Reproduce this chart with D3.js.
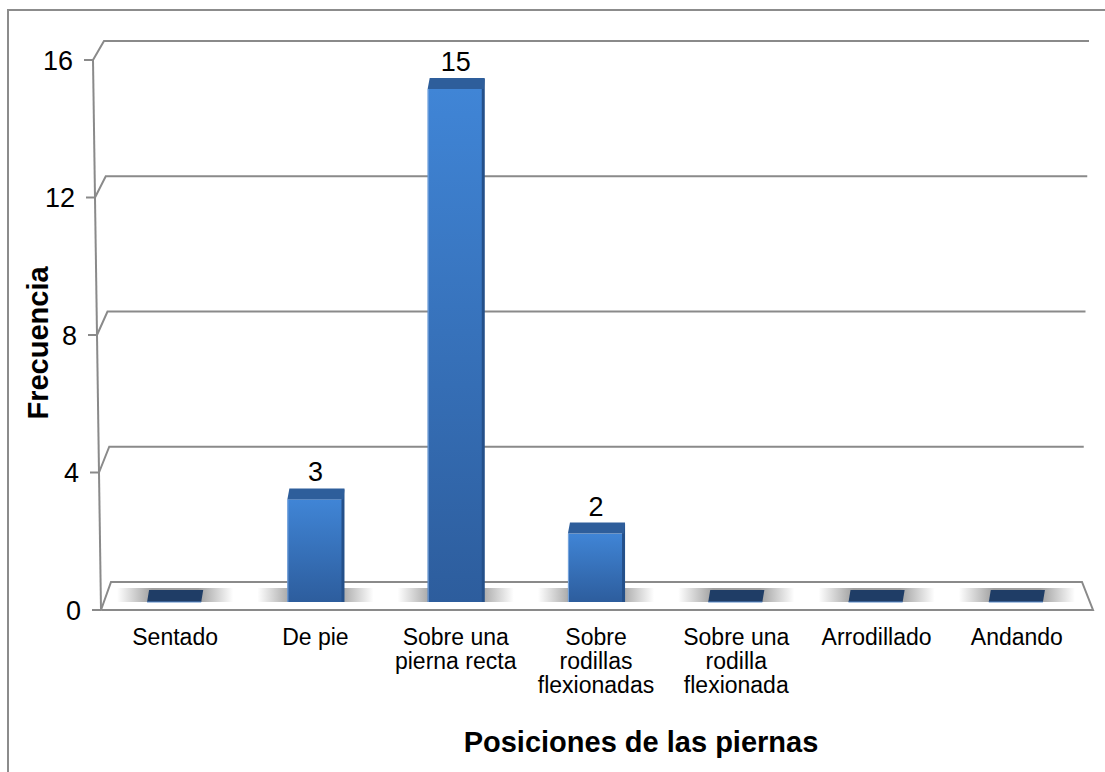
<!DOCTYPE html>
<html>
<head>
<meta charset="utf-8">
<script src="https://cdnjs.cloudflare.com/ajax/libs/d3/7.8.5/d3.min.js"></script>
<style>
  html, body { margin: 0; padding: 0; background: #fff; }
  svg { display: block; font-family: "Liberation Sans", Arial, sans-serif; }
</style>
</head>
<body>
<svg id="chart" width="1105" height="772"></svg>
<script>
// Frequency of leg positions
const categories = [
  "Sentado", "De pie", "Sobre una pierna recta", "Sobre rodillas flexionadas",
  "Sobre una rodilla flexionada", "Arrodillado", "Andando"
];
const categoryLines = [
  ["Sentado"], ["De pie"], ["Sobre una", "pierna recta"], ["Sobre", "rodillas", "flexionadas"],
  ["Sobre una", "rodilla", "flexionada"], ["Arrodillado"], ["Andando"]
];
const values = [0, 3, 15, 2, 0, 0, 0];
const yTicks = [0, 4, 8, 12, 16];
const yTitle = "Frecuencia";
const xTitle = "Posiciones de las piernas";

const svg = d3.select("#chart");
const gridColor = "#8a8a8a";

// Perspective box: front edge of the left wall, back wall, floor
const yFront = d3.scaleLinear().domain([0, 16]).range([610, 60]);
const yBack = d3.scaleLinear().domain([0, 16]).range([582, 41]);
const xFrontLeft = d3.scaleLinear().domain([0, 16]).range([101, 93]);
const xBackLeft = d3.scaleLinear().domain([0, 16]).range([111, 104]);
const xBackRight = d3.scaleLinear().domain([0, 16]).range([1082, 1089]);
// Bars stand on the floor plane
const yBar = d3.scaleLinear().domain([0, 16]).range([602, 602 - 16 * 34.2]);
const x = d3.scaleBand().domain(categories).range([105, 1087]).paddingInner(0.6).paddingOuter(0.3);

const defs = svg.append("defs");
const front = defs.append("linearGradient").attr("id", "barFront").attr("x1", 0).attr("y1", 0).attr("x2", 0).attr("y2", 1);
front.append("stop").attr("offset", "0%").attr("stop-color", "#4085d6");
front.append("stop").attr("offset", "100%").attr("stop-color", "#2d5d9d");
const shade = defs.append("linearGradient").attr("id", "floorShadow").attr("x1", 0).attr("y1", 0).attr("x2", 1).attr("y2", 0);
shade.append("stop").attr("offset", "0%").attr("stop-color", "#9a9a9a").attr("stop-opacity", 0);
shade.append("stop").attr("offset", "30%").attr("stop-color", "#9a9a9a").attr("stop-opacity", 0.95);
shade.append("stop").attr("offset", "70%").attr("stop-color", "#9a9a9a").attr("stop-opacity", 0.95);
shade.append("stop").attr("offset", "100%").attr("stop-color", "#9a9a9a").attr("stop-opacity", 0);

// Chart area border
svg.append("rect").attr("x", 8).attr("y", 10).attr("width", 1110).attr("height", 780)
  .attr("fill", "none").attr("stroke", "#8c8c8c").attr("stroke-width", 2);

// Back wall gridlines with their left-wall connectors
const grid = svg.append("g").attr("stroke", gridColor).attr("stroke-width", 2).attr("fill", "none");
yTicks.filter(d => d > 0).forEach(d => {
  grid.append("path").attr("d", d3.line()([
    [xFrontLeft(d), yFront(d)], [xBackLeft(d), yBack(d)], [xBackRight(d), yBack(d)]
  ]));
});

// Floor
grid.append("path").attr("d", d3.line()([
  [xFrontLeft(0), yFront(0)], [xBackLeft(0), yBack(0)], [xBackRight(0), yBack(0)],
  [1093, yFront(0)], [xFrontLeft(0), yFront(0)]
])).attr("fill", "#fff");

// Left axis line
grid.append("line").attr("x1", xFrontLeft(16)).attr("y1", yFront(16))
  .attr("x2", xFrontLeft(0)).attr("y2", yFront(0));

// Value axis: ticks and labels placed along the slanted front edge
const yAxis = svg.append("g").call(d3.axisLeft(yFront).tickValues(yTicks).tickSize(9).tickPadding(11));
yAxis.select(".domain").remove();
yAxis.selectAll(".tick").attr("transform", d => `translate(${xFrontLeft(d)},${yFront(d)})`);
yAxis.selectAll(".tick line").attr("stroke", gridColor).attr("stroke-width", 2);
yAxis.selectAll(".tick text").attr("font-size", 27).attr("fill", "#000")
  .attr("font-family", "Liberation Sans, Arial, sans-serif").attr("dy", "0.36em");

// Soft shadows on the floor
svg.append("g").selectAll("rect").data(categories).join("rect")
  .attr("x", d => x(d) - 30).attr("width", x.bandwidth() + 60)
  .attr("y", yBar(0) - 14).attr("height", 14)
  .attr("fill", "url(#floorShadow)");

// Bars
const bars = svg.append("g").selectAll("g").data(categories.map((c, i) => ({ c, v: values[i] }))).join("g");
bars.filter(d => d.v === 0).append("path")
  .attr("d", d => d3.line()([
    [x(d.c) + 2, yBar(0) - 12], [x(d.c) + x.bandwidth(), yBar(0) - 12],
    [x(d.c) + x.bandwidth() - 2, yBar(0)], [x(d.c), yBar(0)]
  ]))
  .attr("fill", "#1f3d66");
bars.filter(d => d.v === 0).append("line")
  .attr("x1", d => x(d.c)).attr("x2", d => x(d.c) + x.bandwidth() - 2)
  .attr("y1", yBar(0)).attr("y2", yBar(0)).attr("stroke", "#5b8ac8").attr("stroke-width", 1);

const tall = bars.filter(d => d.v > 0);
tall.append("rect")
  .attr("x", d => x(d.c)).attr("width", x.bandwidth())
  .attr("y", d => yBar(d.v)).attr("height", d => yBar(0) - yBar(d.v))
  .attr("fill", "url(#barFront)");
// right side face
tall.append("rect")
  .attr("x", d => x(d.c) + x.bandwidth() - 2).attr("width", 3)
  .attr("y", d => yBar(d.v) - 10).attr("height", d => yBar(0) - yBar(d.v) + 10)
  .attr("fill", "#24508a");
// top face
tall.append("path")
  .attr("d", d => d3.line()([
    [x(d.c), yBar(d.v)], [x(d.c) + 2, yBar(d.v) - 11],
    [x(d.c) + x.bandwidth() + 1, yBar(d.v) - 11], [x(d.c) + x.bandwidth(), yBar(d.v)]
  ]))
  .attr("fill", "#2e5e9b");
// light left edge
tall.append("line")
  .attr("x1", d => x(d.c) + 0.5).attr("x2", d => x(d.c) + 0.5)
  .attr("y1", d => yBar(d.v)).attr("y2", yBar(0))
  .attr("stroke", "#7aa6de").attr("stroke-width", 1);

// Value labels
tall.append("text")
  .attr("x", d => x(d.c) + x.bandwidth() / 2)
  .attr("y", d => yBar(d.v) - 18)
  .attr("text-anchor", "middle").attr("font-size", 27).attr("fill", "#000")
  .text(d => d.v);

// Category labels
const xl = svg.append("g").selectAll("text").data(categories).join("text")
  .attr("x", d => x(d) + x.bandwidth() / 2)
  .attr("y", 645)
  .attr("text-anchor", "middle").attr("font-size", 23).attr("fill", "#000");
xl.selectAll("tspan").data((d, i) => categoryLines[i]).join("tspan")
  .attr("x", function () { return d3.select(this.parentNode).attr("x"); })
  .attr("dy", (d, i) => i === 0 ? 0 : 24)
  .text(d => d);

// Axis titles
svg.append("text")
  .attr("transform", "translate(48,343) rotate(-90)")
  .attr("text-anchor", "middle").attr("font-size", 29).attr("font-weight", "bold").attr("fill", "#000")
  .text(yTitle);
svg.append("text")
  .attr("x", 641).attr("y", 752)
  .attr("text-anchor", "middle").attr("font-size", 29).attr("font-weight", "bold").attr("fill", "#000")
  .text(xTitle);
</script>
</body>
</html>
